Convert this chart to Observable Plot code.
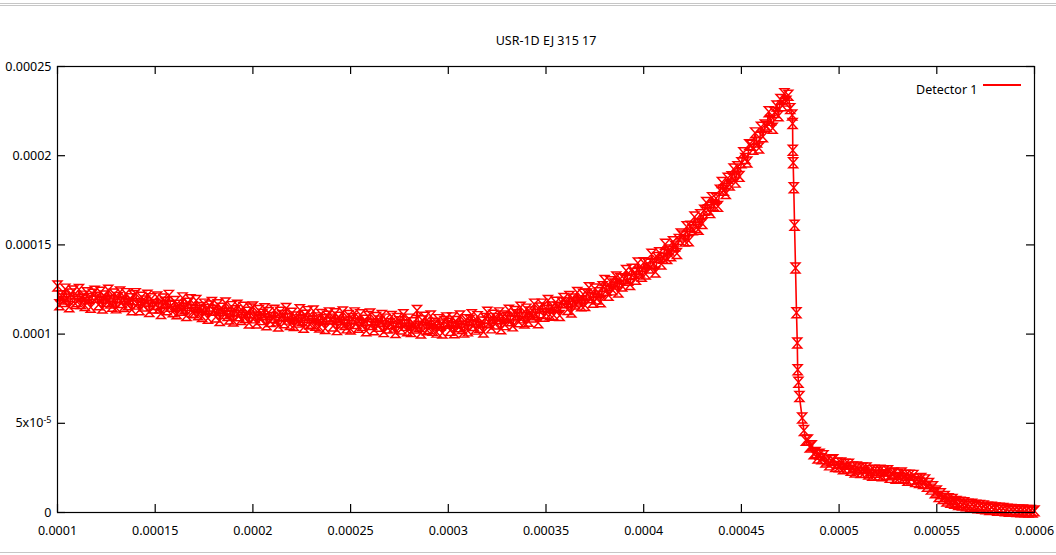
<!DOCTYPE html>
<html><head><meta charset="utf-8">
<script src="https://cdn.jsdelivr.net/npm/d3@7"></script>
<script src="https://cdn.jsdelivr.net/npm/@observablehq/plot@0.6"></script>
<style>
html,body{margin:0;padding:0;background:#fff;}
#wrap{position:relative;width:1056px;height:555px;overflow:hidden;font-family:"Noto Sans",sans-serif;}
.chrome{position:absolute;left:0;width:1056px;height:1px;background:#c6c6c6;}
#legendLine{position:absolute;left:983px;top:84px;width:38px;height:2px;background:#ff0000;}
</style></head><body>
<div id="wrap"><div id="chart"></div>
<div class="chrome" style="top:3px"></div><div class="chrome" style="top:5px"></div><div class="chrome" style="top:552px"></div>
<div id="legendLine"></div></div>
<script>
const title = "USR-1D EJ 315 17";
const seriesName = "Detector 1";
const unit = 1e-6;               // y values below are in units of 1e-6
const binStart = 0.0001, binWidth = 0.000001;
// rising part: x = 0.0001 ... 0.000476
const riseY = [
127.0,116.4,121.5,118.3,125.2,119.6,115.3,122.5,124.2,117.1,
118.2,125.0,117.1,121.3,116.0,123.2,120.0,115.1,122.3,124.0,
120.6,116.4,123.5,114.6,121.4,118.3,124.6,117.4,115.6,122.5,
114.7,120.5,123.6,117.7,115.5,122.7,116.5,119.8,113.6,121.5,
122.7,116.8,113.6,120.6,115.8,118.6,121.8,112.7,119.8,114.6,
116.6,120.8,114.6,111.6,119.7,117.8,113.6,121.7,115.6,112.5,
118.3,111.4,116.2,113.4,120.3,114.2,110.4,117.3,119.2,112.2,
112.0,118.8,110.9,114.9,109.9,116.8,113.8,108.9,115.8,117.7,
113.4,109.6,116.5,107.6,114.5,111.5,117.4,110.4,108.5,115.4,
107.3,113.1,116.2,110.3,108.2,115.1,109.3,112.2,106.2,114.1,
115.2,109.1,106.2,113.2,108.1,111.1,114.2,105.2,112.1,107.1,
109.3,113.4,107.4,104.5,112.3,110.4,106.4,114.3,108.4,105.4,
111.7,104.8,109.6,106.7,113.7,107.6,103.8,110.6,112.6,105.7,
106.1,112.9,105.0,109.1,104.0,111.0,108.0,103.1,110.0,111.9,
108.4,104.5,111.4,102.5,109.4,106.3,112.4,105.4,103.5,110.4,
102.9,108.8,111.9,105.9,103.8,110.9,104.9,107.8,101.9,109.9,
111.3,105.4,102.4,109.3,104.4,107.3,110.4,101.4,108.4,103.4,
105.8,109.9,103.9,100.9,108.8,106.9,102.9,110.9,104.9,101.9,
108.4,101.4,106.4,103.4,113.2,104.4,100.6,107.4,109.4,102.4,
103.1,110.1,102.1,106.1,101.1,108.1,105.1,100.6,107.1,109.1,
106.1,102.1,109.1,100.8,107.1,104.1,110.1,103.1,101.1,108.1,
101.8,107.8,110.8,104.8,102.8,109.8,103.8,106.8,101.2,108.8,
112.3,106.4,103.5,110.6,105.7,108.8,111.9,103.0,110.2,105.3,
109.3,113.4,107.5,104.6,112.7,110.8,106.9,115.0,109.1,106.2,
114.0,107.2,112.4,109.6,116.8,110.9,106.4,114.6,116.8,110.0,
111.5,118.8,110.9,115.2,110.6,117.9,115.1,110.4,117.7,120.0,
117.5,113.8,121.1,112.4,119.7,116.9,123.3,118.6,115.9,122.3,
116.0,122.5,126.0,120.4,117.8,125.3,119.7,123.2,118.1,126.5,
130.0,124.6,121.8,129.4,124.8,128.1,132.0,123.6,131.0,127.0,
131.0,135.6,130.2,127.8,136.4,134.0,130.8,139.8,134.8,132.4,
140.0,133.7,139.4,137.1,144.8,139.5,134.8,142.9,145.6,139.3,
142.5,150.4,142.4,147.1,143.9,151.8,149.3,145.2,153.1,156.1,
155.0,152.2,160.2,152.3,160.4,158.5,165.6,159.7,158.8,166.9,
162.0,169.4,173.8,169.7,168.1,176.5,171.9,176.2,171.6,180.7,
185.0,180.6,178.8,187.4,183.6,188.2,192.6,185.2,193.8,188.4,
196.0,201.7,198.4,196.5,206.2,205.9,203.6,212.8,207.6,204.3,
216.0,210.6,217.2,216.4,224.6,219.8,215.4,224.2,227.9,222.4,
231.5,228.0,234.8,230.6,233.9,226.4,222.8
];
// the steep fall after the peak
const dropX = [0.0004762,0.0004763,0.0004765,0.0004768,0.0004772,0.0004777,0.0004782,0.0004786,0.0004788,0.0004792,0.0004797,0.0004811];
const dropY = [218,203,196,182,161,137,112,95,80,73,65,53];
// tail: x = 0.000482 ... 0.0006
const tailStart = 0.000482;
const tailY = [
46.0,40.5,40.7,36.7,37.4,32.9,33.6,30.5,32.7,30.1,
31.8,28.3,29.4,26.7,29.2,29.6,25.8,27.6,25.6,27.8,
24.5,27.1,25.0,27.1,23.7,25.5,22.7,25.5,24.4,22.4,
25.0,22.5,25.0,21.6,23.5,20.9,23.7,22.6,21.0,23.7,
20.6,23.3,21.2,23.4,19.7,22.0,22.2,19.2,21.3,19.7,
22.1,19.2,20.9,18.1,20.9,18.7,20.8,17.4,18.7,16.8,
19.1,16.3,18.3,14.7,16.3,13.1,14.4,11.1,12.0,9.0,
10.5,7.8,9.0,6.4,7.7,5.7,7.3,5.2,6.2,4.5,
5.8,4.2,5.5,3.7,4.7,3.2,4.6,3.3,4.1,2.7,
3.9,2.5,3.7,2.1,3.0,1.7,2.9,1.9,2.5,1.3,
2.4,1.3,2.3,1.0,1.8,0.7,1.7,0.8,1.6,0.5,
1.4,0.45,1.4,0.35,1.2,0.25,1.1,0.25,0.9
];
const xTicks = [0.0001,0.00015,0.0002,0.00025,0.0003,0.00035,0.0004,0.00045,0.0005,0.00055,0.0006];
const xTickLabels = ["0.0001","0.00015","0.0002","0.00025","0.0003","0.00035","0.0004","0.00045","0.0005","0.00055","0.0006"];
const yTicks = [0,0.00005,0.0001,0.00015,0.0002,0.00025];
const yTickLabels = ["0","5x10-5","0.0001","0.00015","0.0002","0.00025"];

const rows = [
  ...riseY.map((v, i) => ({x: binStart + i * binWidth, y: v * unit})),
  ...dropX.map((x, i) => ({x, y: dropY[i] * unit})),
  ...tailY.map((v, i) => ({x: tailStart + i * binWidth, y: v * unit}))
];

const hourglass = {
  draw(ctx, size) {
    const r = Math.sqrt(size / Math.PI), w = r * 0.9, h = r;
    ctx.moveTo(-w, -h); ctx.lineTo(w, -h); ctx.lineTo(-w, h); ctx.lineTo(w, h); ctx.closePath();
  }
};

const W = 1056, H = 555, mL = 57, mR = 22, mT = 66, mB = 43;
const innerW = W - mL - mR, innerH = H - mT - mB;
const red = "#ff0000";

const chart = Plot.plot({
  width: W, height: H,
  marginLeft: mL, marginRight: mR, marginTop: mT, marginBottom: mB,
  style: {fontFamily: "'Noto Sans', sans-serif", fontSize: "12.5px", color: "#000", background: "transparent", overflow: "visible"},
  x: {domain: [0.0001, 0.0006], label: null},
  y: {domain: [0, 0.00025], label: null},
  marks: [
    Plot.axisX(xTicks, {tickSize: 0, tickPadding: 14, label: null, tickFormat: d => xTickLabels[xTicks.indexOf(d)], fontSize: 12.5}),
    Plot.axisY(yTicks, {tickSize: 0, tickPadding: 6, label: null, tickFormat: d => yTickLabels[yTicks.indexOf(d)], fontSize: 12.5}),
    Plot.tickX(xTicks, {x: d => d, insetTop: innerH - 8, stroke: "#000", strokeWidth: 1.2}),
    Plot.tickX(xTicks, {x: d => d, insetBottom: innerH - 8, stroke: "#000", strokeWidth: 1.2}),
    Plot.tickY(yTicks, {y: d => d, insetRight: innerW - 8, stroke: "#000", strokeWidth: 1.2}),
    Plot.tickY(yTicks, {y: d => d, insetLeft: innerW - 8, stroke: "#000", strokeWidth: 1.2}),
    Plot.line(rows, {x: "x", y: "y", stroke: red, strokeWidth: 1.6}),
    Plot.dot(rows, {x: "x", y: "y", symbol: hourglass, r: 5, stroke: red, strokeWidth: 1.45, fill: "none"}),
    Plot.frame({stroke: "#000", strokeWidth: 1.2}),
    Plot.text([title], {text: d => d, frameAnchor: "top", dy: -30, fontSize: 12.5, fill: "#000"}),
    Plot.text([seriesName], {text: d => d, frameAnchor: "top-right", dx: -57, dy: 19, textAnchor: "end", fontSize: 12.5, fill: "#000"})
  ]
});
document.getElementById("chart").appendChild(chart);

// superscript exponent on the 5x10-5 label
chart.querySelectorAll("text").forEach(t => {
  if (t.textContent === "5x10-5") {
    t.textContent = "5x10";
    const s = document.createElementNS("http://www.w3.org/2000/svg", "tspan");
    s.setAttribute("dy", "-0.45em");
    s.setAttribute("font-size", "9");
    s.textContent = "-5";
    t.appendChild(s);
  }
});
</script>
</body></html>
